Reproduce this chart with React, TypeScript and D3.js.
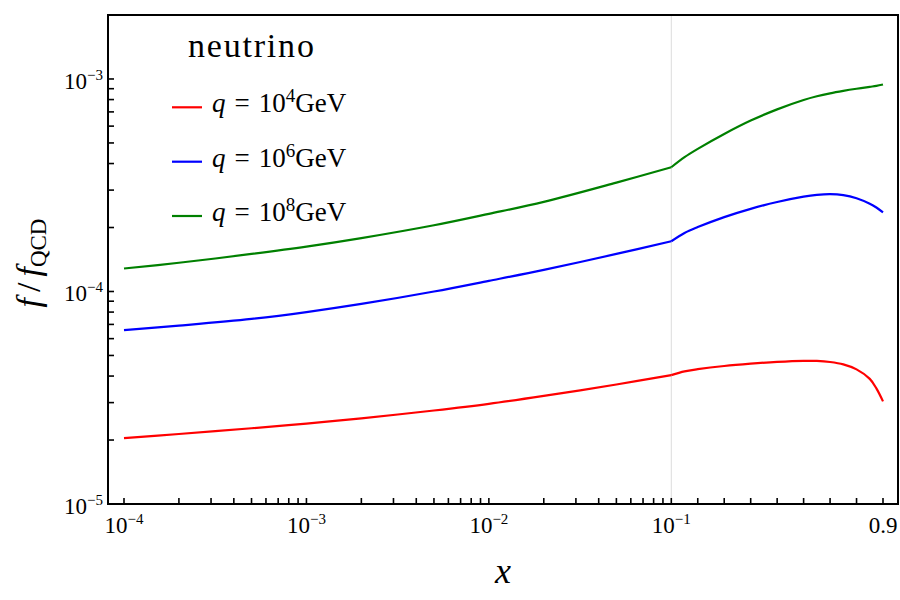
import React from "react";
import * as d3 from "d3";

// Momentum fraction grid (log-spaced below 0.1, linear above)
const xValues = [
  1e-4, 2e-4, 5e-4, 1e-3, 2e-3, 5e-3, 1e-2, 2e-2, 5e-2, 0.1,
  0.15, 0.2, 0.3, 0.4, 0.5, 0.6, 0.65, 0.7, 0.75, 0.8, 0.85, 0.875, 0.9,
];

// f / f_QCD for q = 10^4 GeV
const red = [
  2.043e-5, 2.135e-5, 2.272e-5, 2.391e-5, 2.531e-5, 2.754e-5, 2.959e-5, 3.225e-5, 3.65e-5, 4.04e-5,
  4.21e-5, 4.308e-5, 4.459e-5, 4.573e-5, 4.664e-5, 4.718e-5, 4.712e-5, 4.658e-5, 4.54e-5, 4.3e-5, 3.88e-5, 3.5e-5, 3.04e-5,
];

// f / f_QCD for q = 10^6 GeV
const blue = [
  6.577e-5, 6.906e-5, 7.428e-5, 7.998e-5, 8.736e-5, 9.995e-5, 1.122e-4, 1.264e-4, 1.502e-4, 1.723e-4,
  1.886e-4, 2.009e-4, 2.239e-4, 2.449e-4, 2.636e-4, 2.793e-4, 2.848e-4, 2.871e-4, 2.841e-4, 2.745e-4, 2.586e-4, 2.483e-4, 2.357e-4,
];

// f / f_QCD for q = 10^8 GeV
const green = [
  1.283e-4, 1.365e-4, 1.502e-4, 1.626e-4, 1.783e-4, 2.049e-4, 2.319e-4, 2.642e-4, 3.254e-4, 3.842e-4,
  4.286e-4, 4.689e-4, 5.509e-4, 6.369e-4, 7.195e-4, 7.963e-4, 8.29e-4, 8.562e-4, 8.791e-4, 8.996e-4, 9.184e-4, 9.28e-4, 9.421e-4,
];

const seriesList = [
  { name: "4", color: "#ff0000", values: red },
  { name: "6", color: "#0000ff", values: blue },
  { name: "8", color: "#008000", values: green },
];

const xMajorLog = [1e-4, 1e-3, 1e-2, 1e-1];
const xMajorLabels = ["−4", "−3", "−2", "−1"];
const yMajor = [1e-5, 1e-4, 1e-3];
const yMajorLabels = ["−5", "−4", "−3"];

const W = 900;
const H = 600;
const left = 108;
const right = 898;
const top = 15;
const bottom = 504;
const split = 671.3;

const xLog = d3.scaleLog().domain([1e-4, 0.1]).range([left + 16, split]);
const xLin = d3.scaleLinear().domain([0.1, 0.9]).range([split, right - 15]);
const xScale = (v: number) => (v <= 0.1 ? xLog(v) : xLin(v));
const yScale = d3.scaleLog().domain([1e-5, 2e-3]).range([bottom, top]);

const FONT = '"Liberation Serif", "DejaVu Serif", serif';

export default function App() {
  const xTicks: number[] = [];
  for (let e = -4; e <= -2; e++) {
    for (let m = 1; m <= 9; m++) xTicks.push(m * Math.pow(10, e));
  }
  xTicks.push(0.1);
  for (let k = 2; k <= 9; k++) xTicks.push(k / 10);

  const yTicks: number[] = [];
  for (let e = -5; e <= -3; e++) {
    for (let m = 1; m <= 9; m++) {
      const v = m * Math.pow(10, e);
      if (v <= 2e-3) yTicks.push(v);
    }
  }

  const line = d3
    .line<[number, number]>()
    .x((d) => xScale(d[0]))
    .y((d) => yScale(d[1]))
    .curve(d3.curveCatmullRom.alpha(0.5));

  // the log and linear parts are drawn separately so the join at 0.1 stays sharp
  const segments = (vals: number[]) => {
    const pts: [number, number][] = xValues.map((x, i) => [x, vals[i]]);
    const lo = pts.filter((p) => p[0] <= 0.1);
    const hi = pts.filter((p) => p[0] >= 0.1);
    return [line(lo) || "", line(hi) || ""];
  };

  const legendX0 = 172;
  const legendY = [107.3, 161.7, 216];
  const txt = { fontFamily: FONT };

  return (
    <svg width={W} height={H} style={{ display: "block", position: "absolute", left: 0, top: 0 }}>
      <rect x={0} y={0} width={W} height={H} fill="#fff" />
      <line x1={split} x2={split} y1={top} y2={bottom} stroke="#dcdcdc" strokeWidth={1} />

      {seriesList.map((s) =>
        segments(s.values).map((d, j) => (
          <path key={s.name + j} d={d} fill="none" stroke={s.color} strokeWidth={2.2} strokeLinejoin="round" />
        ))
      )}

      {xTicks.map((t, i) => (
        <line key={"xt" + i} x1={xScale(t)} x2={xScale(t)} y1={bottom} y2={bottom - 6} stroke="#000" strokeWidth={1.6} />
      ))}
      {yTicks.map((t, i) => (
        <line key={"yt" + i} x1={left} x2={left + 6} y1={yScale(t)} y2={yScale(t)} stroke="#000" strokeWidth={1.6} />
      ))}

      <rect x={left} y={top} width={right - left} height={bottom - top} fill="none" stroke="#000" strokeWidth={2} />

      {xMajorLog.map((t, i) => (
        <text key={"xl" + i} x={xScale(t)} y={533} fontSize={23} textAnchor="middle" style={txt}>
          <tspan>10</tspan>
          <tspan dy={-9} fontSize={15}>{xMajorLabels[i]}</tspan>
        </text>
      ))}
      <text x={xScale(0.9)} y={533} fontSize={23} textAnchor="middle" style={txt}>0.9</text>

      {yMajor.map((t, i) => (
        <text key={"yl" + i} x={103} y={yScale(t) + 9.6} fontSize={23} textAnchor="end" style={txt}>
          <tspan>10</tspan>
          <tspan dy={-9} fontSize={15}>{yMajorLabels[i]}</tspan>
        </text>
      ))}

      <text x={503} y={583} fontSize={36} fontStyle="italic" textAnchor="middle" style={txt}>x</text>
      <text transform="translate(40,263) rotate(-90)" fontSize={34} textAnchor="middle" style={txt}>
        <tspan fontStyle="italic">f</tspan>
        <tspan dx={6}>/</tspan>
        <tspan dx={6} fontStyle="italic">f</tspan>
        <tspan dy={6} fontSize={23}>QCD</tspan>
      </text>

      <text x={188} y={56.7} fontSize={34} letterSpacing={1.8} style={txt}>neutrino</text>
      {seriesList.map((s, i) => (
        <g key={"lg" + i}>
          <line x1={legendX0} x2={legendX0 + 30} y1={legendY[i]} y2={legendY[i]} stroke={s.color} strokeWidth={2.2} />
          <text x={212} y={legendY[i] + 5} fontSize={27} style={txt}>
            <tspan fontStyle="italic">q</tspan>
            <tspan dx={9}>=</tspan>
            <tspan dx={9}>10</tspan>
            <tspan dy={-10} fontSize={19}>{s.name}</tspan>
            <tspan dy={10}>GeV</tspan>
          </text>
        </g>
      ))}
    </svg>
  );
}
